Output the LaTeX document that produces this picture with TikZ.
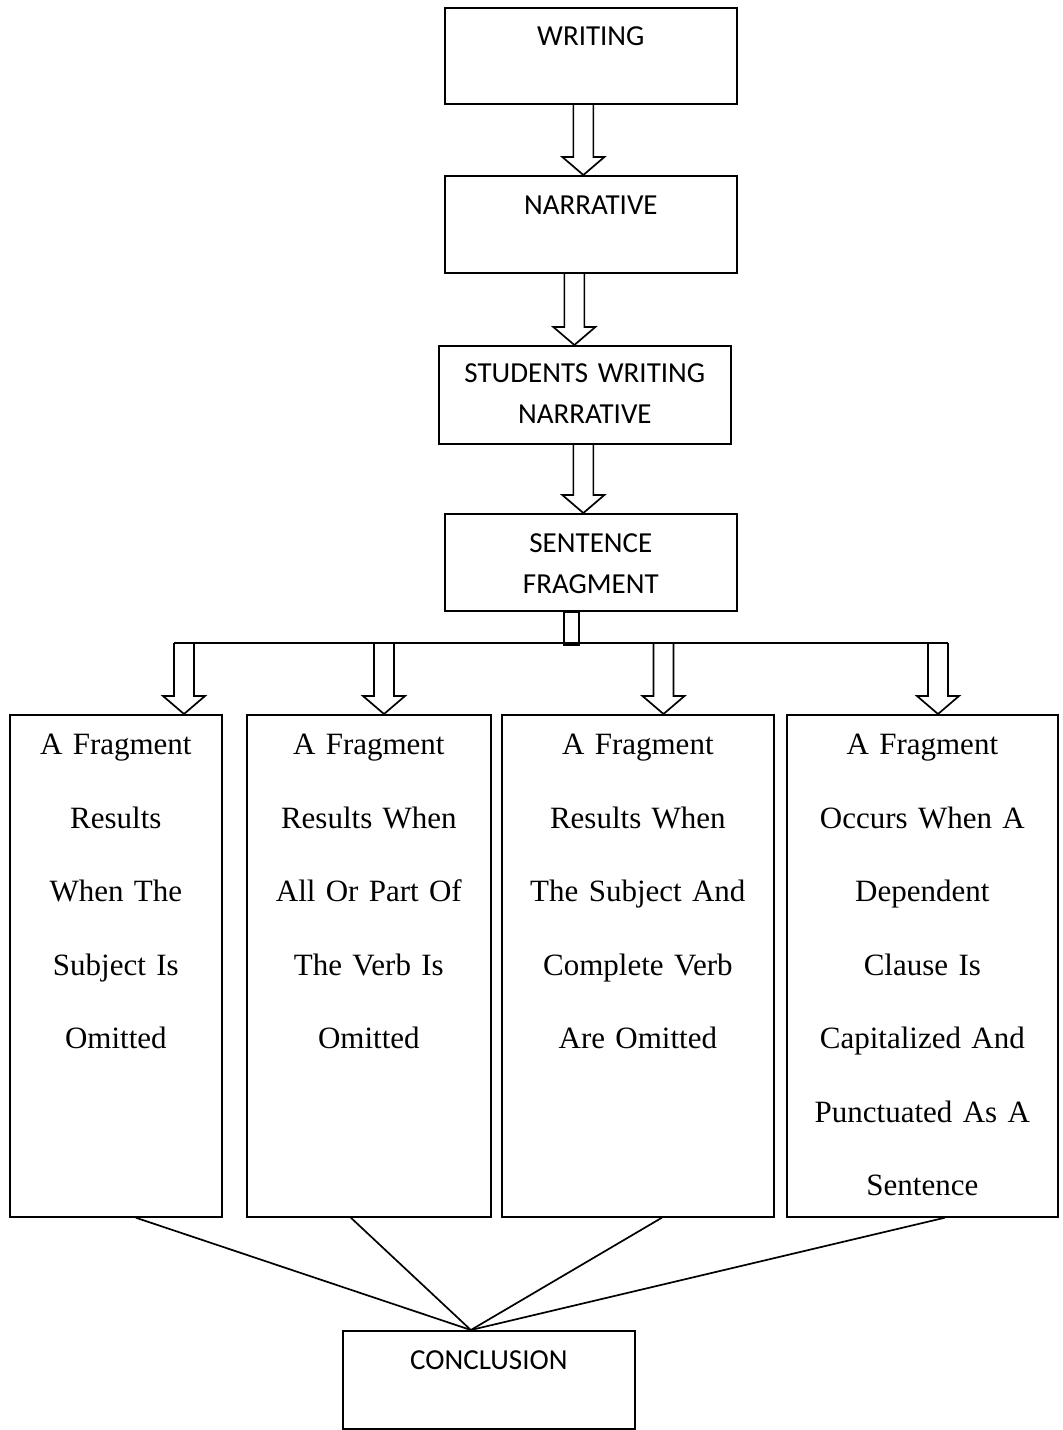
\documentclass[tikz,border=0pt]{standalone}
\usepackage{fontspec}
\setmainfont{Liberation Serif}
\newfontfamily\boxsans{Carlito}
\usetikzlibrary{calc}

\tikzset{
  boxline/.style={line width=1.7pt},
  capsbox/.style={draw, boxline, anchor=north west, inner sep=0pt,
    text width=292pt, align=center,
    font=\boxsans\fontsize{29}{41}\selectfont},
  typebox/.style={draw, boxline, anchor=north west, inner sep=0pt,
    align=center, text height=40pt, text depth=462pt,
    font=\fontsize{31}{73.5}\selectfont},
}

% hollow block arrow: x from the first point, tip on the y of the second
\newcommand{\hollowarrow}[2]{%
  \draw[boxline] let \p1=#1, \p2=#2 in
    (\x1-10,\y1) -- (\x1-10,\y2+18) -- (\x1-21,\y2+18) -- (\x1,\y2)
    -- (\x1+21,\y2+18) -- (\x1+10,\y2+18) -- (\x1+10,\y1);}

\begin{document}
\begin{tikzpicture}[x=1pt,y=-1pt]
  \useasboundingbox (0,0) rectangle (1063,1430);

  % main chain
  \node[capsbox, text height=38pt, text depth=58pt] (wri) at (444,7) {WRITING};
  \node[capsbox, text height=39pt, text depth=58pt] (nar) at (444,175) {NARRATIVE};
  \node[capsbox, text height=37pt, text depth=61pt] (stu) at (438,345) {STUDENTS WRITING\\NARRATIVE};
  \node[capsbox, text height=39pt, text depth=58pt] (sen) at (444,513) {SENTENCE\\FRAGMENT};

  \hollowarrow{([xshift=-7.5pt]wri.south)}{(nar.north)}
  \hollowarrow{([xshift=-16.5pt]nar.south)}{(stu.north)}
  \hollowarrow{([xshift=-1.5pt]stu.south)}{(sen.north)}

  % the four kinds of fragment
  \node[typebox, text width=212pt] (b1) at (9,714)
    {A Fragment\\Results\\When The\\Subject Is\\Omitted};
  \node[typebox, text width=244pt] (b2) at (246,714)
    {A Fragment\\Results When\\All Or Part Of\\The Verb Is\\Omitted};
  \node[typebox, text width=272pt] (b3) at (501,714)
    {A Fragment\\Results When\\The Subject And\\Complete Verb\\Are Omitted};
  \node[typebox, text width=271pt] (b4) at (786,714)
    {A Fragment\\Occurs When A\\Dependent\\Clause Is\\Capitalized And\\Punctuated As A\\Sentence};

  % branching
  \draw[boxline] ([xshift=-27pt]sen.south) rectangle ([xshift=-12pt,yshift=-33pt]sen.south);
  \coordinate (barl) at (174,643);
  \coordinate (barr) at (948,643);
  \draw[boxline] (barl) -- (barr);
  \foreach \xx/\bx in {184/b1,384/b2,663.5/b3,938/b4}{
    \hollowarrow{(\xx,643)}{(\bx.north)}
  }

  \node[capsbox, text height=39pt, text depth=59pt] (con) at (342,1330) {CONCLUSION};

  \draw[boxline] ([xshift=20pt]b1.south) -- ([xshift=-18pt]con.north);
  \draw[boxline] ([xshift=-18pt]b2.south) -- ([xshift=-18pt]con.north);
  \draw[boxline] ([xshift=24pt]b3.south) -- ([xshift=-18pt]con.north);
  \draw[boxline] ([xshift=22.5pt]b4.south) -- ([xshift=-18pt]con.north);
\end{tikzpicture}
\end{document}
